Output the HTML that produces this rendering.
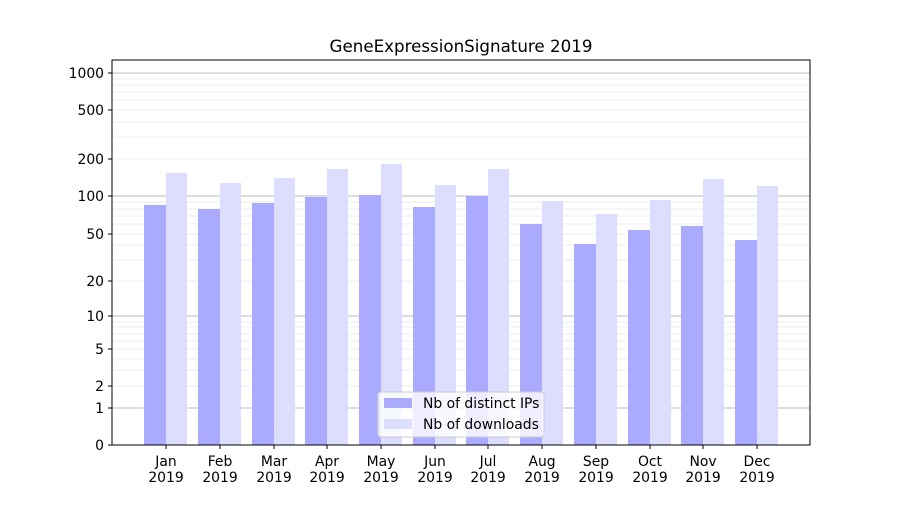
<!DOCTYPE html>
<html><head><style>body{margin:0;background:#fff}</style></head><body>
<svg width="900" height="500" xmlns="http://www.w3.org/2000/svg" font-family="DejaVu Sans, Liberation Sans, sans-serif">
<rect width="900" height="500" fill="#fff"/>
<g stroke="#eee" stroke-width="1">
<line x1="112" x2="810" y1="386" y2="386"/><line x1="112" x2="810" y1="370" y2="370"/><line x1="112" x2="810" y1="359" y2="359"/><line x1="112" x2="810" y1="349" y2="349"/><line x1="112" x2="810" y1="341" y2="341"/><line x1="112" x2="810" y1="334" y2="334"/><line x1="112" x2="810" y1="327" y2="327"/><line x1="112" x2="810" y1="322" y2="322"/>
<line x1="112" x2="810" y1="281" y2="281"/><line x1="112" x2="810" y1="260" y2="260"/><line x1="112" x2="810" y1="245" y2="245"/><line x1="112" x2="810" y1="234" y2="234"/><line x1="112" x2="810" y1="224" y2="224"/><line x1="112" x2="810" y1="216" y2="216"/><line x1="112" x2="810" y1="209" y2="209"/><line x1="112" x2="810" y1="202" y2="202"/>
<line x1="112" x2="810" y1="159" y2="159"/><line x1="112" x2="810" y1="137" y2="137"/><line x1="112" x2="810" y1="122" y2="122"/><line x1="112" x2="810" y1="110" y2="110"/><line x1="112" x2="810" y1="100" y2="100"/><line x1="112" x2="810" y1="92" y2="92"/><line x1="112" x2="810" y1="85" y2="85"/><line x1="112" x2="810" y1="79" y2="79"/>
</g>
<g stroke="#bbb" stroke-width="1"><line x1="112" x2="810" y1="408" y2="408"/><line x1="112" x2="810" y1="316" y2="316"/><line x1="112" x2="810" y1="196" y2="196"/><line x1="112" x2="810" y1="73" y2="73"/></g>
<g fill="#aaaaff">
<rect x="144" y="205" width="22" height="240"/><rect x="198" y="209" width="22" height="236"/><rect x="252" y="203" width="22" height="242"/><rect x="305" y="197" width="22" height="248"/><rect x="359" y="195" width="22" height="250"/><rect x="413" y="207" width="22" height="238"/><rect x="466" y="196" width="22" height="249"/><rect x="520" y="224" width="22" height="221"/><rect x="574" y="244" width="22" height="201"/><rect x="628" y="230" width="22" height="215"/><rect x="681" y="226" width="22" height="219"/><rect x="735" y="240" width="22" height="205"/>
</g>
<g fill="#ddddff">
<rect x="166" y="173" width="21" height="272"/><rect x="220" y="183" width="21" height="262"/><rect x="274" y="178" width="21" height="267"/><rect x="327" y="169" width="21" height="276"/><rect x="381" y="164" width="21" height="281"/><rect x="435" y="185" width="21" height="260"/><rect x="488" y="169" width="21" height="276"/><rect x="542" y="201" width="21" height="244"/><rect x="596" y="214" width="21" height="231"/><rect x="650" y="200" width="21" height="245"/><rect x="703" y="179" width="21" height="266"/><rect x="757" y="186" width="21" height="259"/>
</g>
<rect x="112" y="60" width="698" height="385" fill="none" stroke="#000" stroke-width="1"/>
<g stroke="#000"><line x1="108" x2="112" y1="445" y2="445"/><line x1="108" x2="112" y1="408" y2="408"/><line x1="108" x2="112" y1="386" y2="386"/><line x1="108" x2="112" y1="349" y2="349"/><line x1="108" x2="112" y1="316" y2="316"/><line x1="108" x2="112" y1="281" y2="281"/><line x1="108" x2="112" y1="234" y2="234"/><line x1="108" x2="112" y1="196" y2="196"/><line x1="108" x2="112" y1="159" y2="159"/><line x1="108" x2="112" y1="110" y2="110"/><line x1="108" x2="112" y1="73" y2="73"/></g>
<g font-size="13.9" text-anchor="end" fill="#000">
<text x="104" y="450">0</text><text x="104" y="413">1</text><text x="104" y="391">2</text><text x="104" y="354">5</text><text x="104" y="321">10</text><text x="104" y="286">20</text><text x="104" y="239">50</text><text x="104" y="201">100</text><text x="104" y="164">200</text><text x="104" y="115">500</text><text x="104" y="78">1000</text>
</g>
<g font-size="13.9" text-anchor="middle" fill="#000">
<text x="166" y="466">Jan</text><text x="166" y="482">2019</text>
<text x="220" y="466">Feb</text><text x="220" y="482">2019</text>
<text x="274" y="466">Mar</text><text x="274" y="482">2019</text>
<text x="327" y="466">Apr</text><text x="327" y="482">2019</text>
<text x="381" y="466">May</text><text x="381" y="482">2019</text>
<text x="435" y="466">Jun</text><text x="435" y="482">2019</text>
<text x="488" y="466">Jul</text><text x="488" y="482">2019</text>
<text x="542" y="466">Aug</text><text x="542" y="482">2019</text>
<text x="596" y="466">Sep</text><text x="596" y="482">2019</text>
<text x="650" y="466">Oct</text><text x="650" y="482">2019</text>
<text x="703" y="466">Nov</text><text x="703" y="482">2019</text>
<text x="757" y="466">Dec</text><text x="757" y="482">2019</text>
</g>
<g stroke="#000"><line x1="166" x2="166" y1="445" y2="449"/><line x1="220" x2="220" y1="445" y2="449"/><line x1="274" x2="274" y1="445" y2="449"/><line x1="327" x2="327" y1="445" y2="449"/><line x1="381" x2="381" y1="445" y2="449"/><line x1="435" x2="435" y1="445" y2="449"/><line x1="488" x2="488" y1="445" y2="449"/><line x1="542" x2="542" y1="445" y2="449"/><line x1="596" x2="596" y1="445" y2="449"/><line x1="650" x2="650" y1="445" y2="449"/><line x1="703" x2="703" y1="445" y2="449"/><line x1="757" x2="757" y1="445" y2="449"/></g>
<text x="461" y="52" font-size="16.7" text-anchor="middle">GeneExpressionSignature 2019</text>
<rect x="378" y="392" width="166" height="45" rx="3" fill="#fff" fill-opacity="0.8" stroke="#ccc"/>
<rect x="384" y="398" width="28" height="10" fill="#aaaaff"/>
<rect x="384" y="419" width="28" height="10" fill="#ddddff"/>
<text x="423" y="408" font-size="13.9">Nb of distinct IPs</text>
<text x="423" y="429" font-size="13.9">Nb of downloads</text>
</svg>
</body></html>
